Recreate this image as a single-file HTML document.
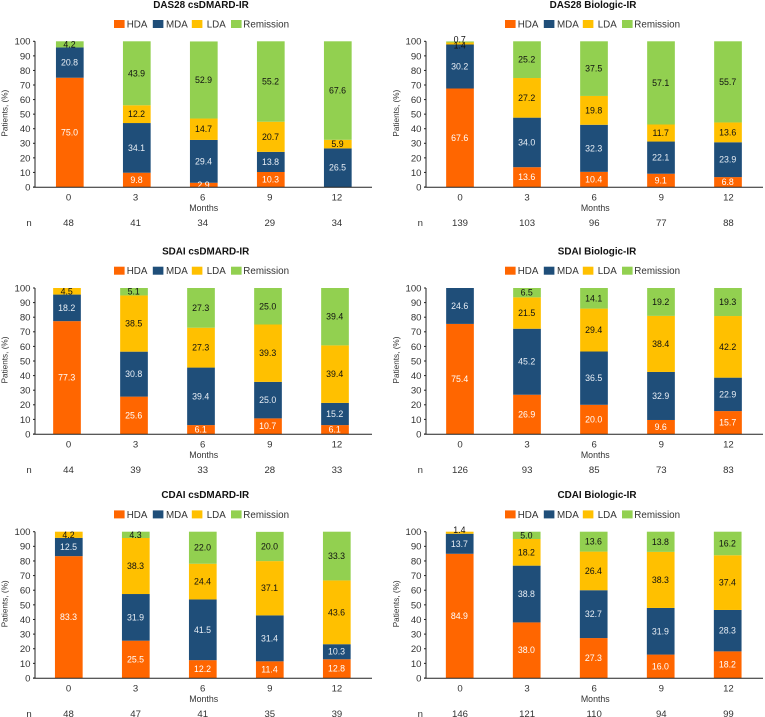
<!DOCTYPE html>
<html lang="en">
<head>
<meta charset="utf-8">
<title>Disease activity by month</title>
<style>
  html, body { margin: 0; padding: 0; background: #fff; }
  #charts { display: block; width: 765px; height: 717px; font-family: "Liberation Sans", sans-serif; filter: blur(0.3px); }
  text { font-family: "Liberation Sans", sans-serif; }
</style>
</head>
<body>
<svg id="charts" xmlns="http://www.w3.org/2000/svg" width="765" height="717" viewBox="0 0 765 717"></svg>
<script>
const panelTitles = ["DAS28 csDMARD-IR", "DAS28 Biologic-IR", "SDAI csDMARD-IR", "SDAI Biologic-IR", "CDAI csDMARD-IR", "CDAI Biologic-IR"];
const monthCategories = ["0", "3", "6", "9", "12"];
const yTickValues = [0, 10, 20, 30, 40, 50, 60, 70, 80, 90, 100];
const seriesNames = ["HDA", "MDA", "LDA", "Remission"];

const hdaValues = [
  [75.0, 9.8, 2.9, 10.3, 0],
  [67.6, 13.6, 10.4, 9.1, 6.8],
  [77.3, 25.6, 6.1, 10.7, 6.1],
  [75.4, 26.9, 20.0, 9.6, 15.7],
  [83.3, 25.5, 12.2, 11.4, 12.8],
  [84.9, 38.0, 27.3, 16.0, 18.2]
];
const mdaValues = [
  [20.8, 34.1, 29.4, 13.8, 26.5],
  [30.2, 34.0, 32.3, 22.1, 23.9],
  [18.2, 30.8, 39.4, 25.0, 15.2],
  [24.6, 45.2, 36.5, 32.9, 22.9],
  [12.5, 31.9, 41.5, 31.4, 10.3],
  [13.7, 38.8, 32.7, 31.9, 28.3]
];
const ldaValues = [
  [0, 12.2, 14.7, 20.7, 5.9],
  [1.4, 27.2, 19.8, 11.7, 13.6],
  [4.5, 38.5, 27.3, 39.3, 39.4],
  [0, 21.5, 29.4, 38.4, 42.2],
  [4.2, 38.3, 24.4, 37.1, 43.6],
  [1.4, 18.2, 26.4, 38.3, 37.4]
];
const remissionValues = [
  [4.2, 43.9, 52.9, 55.2, 67.6],
  [0.7, 25.2, 37.5, 57.1, 55.7],
  [0, 5.1, 27.3, 25.0, 39.4],
  [0, 6.5, 14.1, 19.2, 19.3],
  [0, 4.3, 22.0, 20.0, 33.3],
  [0, 5.0, 13.6, 13.8, 16.2]
];
const patientCounts = [
  [48, 41, 34, 29, 34],
  [139, 103, 96, 77, 88],
  [44, 39, 33, 28, 33],
  [126, 93, 85, 73, 83],
  [48, 47, 41, 35, 39],
  [146, 121, 110, 94, 99]
];

const seriesData = [hdaValues, mdaValues, ldaValues, remissionValues];
const seriesColors = ["#FF6600", "#1F4E79", "#FFC000", "#92D050"];
const labelColors = ["#fff", "#e8eef5", "#111", "#111"];
const NS = "http://www.w3.org/2000/svg";
const root = document.getElementById("charts");

/* layout per panel: left x origin, baseline y, first bar centre, title centre, title y */
const layouts = [
  { ox: 0,   y0: 187, y100: 41.3,  bar0: 69.8,  titleX: 201,   titleY: 8 },
  { ox: 391, y0: 187, y100: 41.3,  bar0: 460,   titleX: 593,   titleY: 8 },
  { ox: 0,   y0: 434, y100: 288,   bar0: 67,    titleX: 205.7, titleY: 254.5 },
  { ox: 391, y0: 434, y100: 288,   bar0: 460,   titleX: 597,   titleY: 254.5 },
  { ox: 0,   y0: 678, y100: 531.7, bar0: 68.8,  titleX: 205.3, titleY: 498 },
  { ox: 391, y0: 678, y100: 531.7, bar0: 459.7, titleX: 597,   titleY: 498 }
];
const BAR_W = 27.7;
const STEP = 67;

function make(tag, attrs, parent, content) {
  const node = document.createElementNS(NS, tag);
  for (const key in attrs) node.setAttribute(key, attrs[key]);
  if (content !== undefined) node.textContent = content;
  parent.appendChild(node);
  return node;
}

function yScale(layout, value) {
  return layout.y0 - (value / 100) * (layout.y0 - layout.y100);
}
function tickCenter(layout, i) {
  const first = layout.ox === 0 ? 68.5 : 460;
  return first + i * 67.1;
}

layouts.forEach(function (layout, p) {
  const g = make("g", {}, root);
  
  

  const title = make("text", { x: layout.titleX, y: layout.titleY, "text-anchor": "middle", "font-size": "9.9", "font-weight": "bold", fill: "#111" }, g, panelTitles[p]);
  
  

  /* legend */
  const legY = layout.y100 - 21.3;
  const swatchX = [114, 152.8, 191.8, 231];
  const legTextX = [126.7, 166, 206.7, 243.3];
  seriesNames.forEach(function (name, s) {
    const entry = make("g", {}, g);
    
    
    const off = layout.ox === 0 ? 0 : 391;
    const sw = make("rect", { x: swatchX[s] + off, y: legY, width: 10.6, height: 8, fill: seriesColors[s] }, entry);
    
    
    const lt = make("text", { x: legTextX[s] + off, y: legY + 7.4, "font-size": "9.8", fill: "#333" }, entry, name);
    
    
  });

  /* stacked bars */
  monthCategories.forEach(function (month, i) {
    const cx = layout.bar0 + i * STEP;
    let cum = 0;
    let topIndex = -1;
    seriesData.forEach(function (series, s) { if (series[p][i] > 0) topIndex = s; });
    seriesData.forEach(function (series, s) {
      const v = series[p][i];
      if (v <= 0) return;
      const yTop = Math.max(yScale(layout, cum + v), layout.y100);
      const yBot = yScale(layout, cum);
      const bar = make("rect", { x: cx - BAR_W / 2, y: yTop, width: BAR_W, height: Math.max(yBot - yTop, 0), fill: seriesColors[s] }, g);
      
      
      cum += v;
    });
    cum = 0;
    seriesData.forEach(function (series, s) {
      const v = series[p][i];
      if (v <= 0) return;
      const yMid = (yScale(layout, cum + v) + yScale(layout, cum)) / 2;
      let nudge = 0;
      if (v < 2) nudge = s === topIndex ? -2.6 : 2;
      const label = make("text", { x: cx - 0.3, y: yMid + 3 + nudge, "text-anchor": "middle", "font-size": "8.8", fill: labelColors[s] }, g, v.toFixed(1));
      
      
      cum += v;
    });
  });

  /* axes */
  const axisX = layout.ox === 0 ? 35 : 426;
  const axisEnd = layout.ox === 0 ? 372 : 763;
  const yAxis = make("line", { x1: axisX, x2: axisX, y1: layout.y100, y2: layout.y0, stroke: "#222", "stroke-width": 1 }, g);
  
  
  const xAxis = make("line", { x1: axisX - 2, x2: axisEnd, y1: layout.y0 + 0.3, y2: layout.y0 + 0.3, stroke: "#222", "stroke-width": 1 }, g);
  
  

  yTickValues.forEach(function (t) {
    const y = yScale(layout, t);
    const tick = make("line", { x1: axisX - 2, x2: axisX, y1: y, y2: y, stroke: "#222", "stroke-width": 1 }, g);
    
    
    const tl = make("text", { x: axisX - 4.5, y: y + 3.4, "text-anchor": "end", "font-size": "9.6", fill: "#333" }, g, String(t));
    
    
  });

  const yCenter = (layout.y0 + layout.y100) / 2;
  const yTitleX = (layout.ox === 0 ? 4.7 : 396) + 3;
  const yTitle = make("text", { x: yTitleX, y: yCenter - 1, "text-anchor": "middle", "font-size": "8.2", fill: "#333", transform: "rotate(-90 " + yTitleX + " " + (yCenter - 1) + ")" }, g, "Patients, (%)");
  
  

  monthCategories.forEach(function (month, i) {
    const x = tickCenter(layout, i);
    const ml = make("text", { x: x, y: layout.y0 + 13.4, "text-anchor": "middle", "font-size": "9.6", fill: "#333" }, g, month);
    
    
    const nl = make("text", { x: x, y: layout.y0 + 38.8, "text-anchor": "middle", "font-size": "9.6", fill: "#333" }, g, String(patientCounts[p][i]));
    
    
  });

  const xTitle = make("text", { x: layout.ox === 0 ? 203.7 : 595.3, y: layout.y0 + 24.2, "text-anchor": "middle", "font-size": "8.8", fill: "#333" }, g, "Months");
  
  

  const nLabel = make("text", { x: layout.ox === 0 ? 29 : 420.3, y: layout.y0 + 38.8, "text-anchor": "middle", "font-size": "9.6", fill: "#333" }, g, "n");
  
  
});
</script>
</body>
</html>
